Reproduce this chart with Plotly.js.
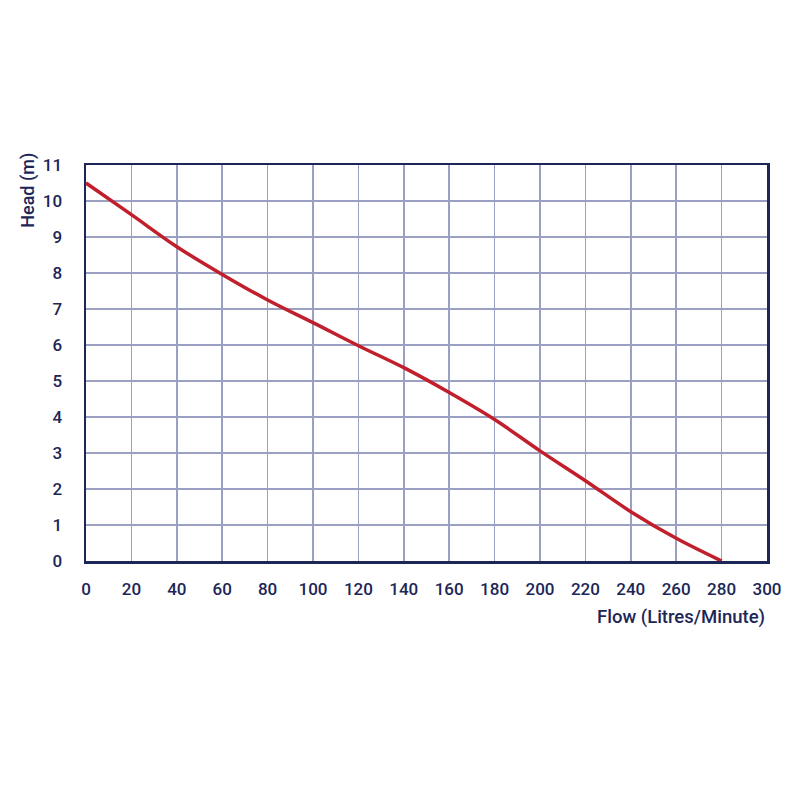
<!DOCTYPE html>
<html>
<head>
<meta charset="utf-8">
<script src="https://cdn.plot.ly/plotly-3.0.1.min.js"></script>
<style>
  body { margin: 0; background: #fff; }
  #plot { width: 800px; height: 800px; }
</style>
</head>
<body>
<div id="plot"></div>
<script>
// pump curve: flow (L/min) vs head (m)
var flow = [0, 20, 40, 60, 80, 100, 120, 140, 160, 180, 200, 220, 240, 260, 280];
var head = [10.5, 9.62, 8.73, 7.96, 7.25, 6.62, 5.98, 5.37, 4.68, 3.93, 3.06, 2.23, 1.37, 0.63, 0];
var xTicks = [0, 20, 40, 60, 80, 100, 120, 140, 160, 180, 200, 220, 240, 260, 280, 300];
var yTicks = [0, 1, 2, 3, 4, 5, 6, 7, 8, 9, 10, 11];

var navy = '#1c2657';
var fam = 'Roboto, sans-serif';
var tickFont = {family: fam, size: 17, color: navy, weight: 500};

var trace = {
  x: flow,
  y: head,
  type: 'scatter',
  mode: 'lines',
  line: {color: '#c01f2b', width: 3.5, shape: 'spline', smoothing: 1},
  hoverinfo: 'skip'
};

var layout = {
  width: 800,
  height: 800,
  margin: {l: 86, r: 33, t: 165, b: 239},
  paper_bgcolor: '#fff',
  plot_bgcolor: '#fff',
  showlegend: false,
  xaxis: {
    range: [0, 300],
    tickvals: xTicks,
    ticktext: xTicks.map(String),
    showgrid: true,
    gridcolor: '#9ba0c2',
    gridwidth: 1.5,
    zeroline: false,
    showline: true,
    linecolor: navy,
    linewidth: 2.5,
    mirror: true,
    ticks: 'outside',
    ticklen: 11,
    tickcolor: 'rgba(0,0,0,0)',
    tickfont: tickFont,
    fixedrange: true
  },
  yaxis: {
    range: [0, 11],
    tickvals: yTicks,
    ticktext: yTicks.map(String),
    showgrid: true,
    gridcolor: '#9ba0c2',
    gridwidth: 1.5,
    zeroline: false,
    showline: true,
    linecolor: navy,
    linewidth: 2.5,
    mirror: true,
    ticks: 'outside',
    ticklen: 18,
    tickcolor: 'rgba(0,0,0,0)',
    tickfont: tickFont,
    fixedrange: true
  },
  annotations: [
    {
      text: 'Head (m)',
      xref: 'paper', yref: 'paper',
      x: -0.085, y: 1.035,
      xanchor: 'center', yanchor: 'top',
      textangle: -90,
      showarrow: false,
      font: {family: fam, size: 18, color: navy, weight: 500}
    },
    {
      text: 'Flow (Litres/Minute)',
      xref: 'paper', yref: 'paper',
      x: 1.0, y: -0.142,
      xanchor: 'right', yanchor: 'middle',
      showarrow: false,
      font: {family: fam, size: 18.5, color: navy, weight: 500}
    }
  ]
};

Plotly.newPlot('plot', [trace], layout, {displayModeBar: false, staticPlot: true});
</script>
</body>
</html>
